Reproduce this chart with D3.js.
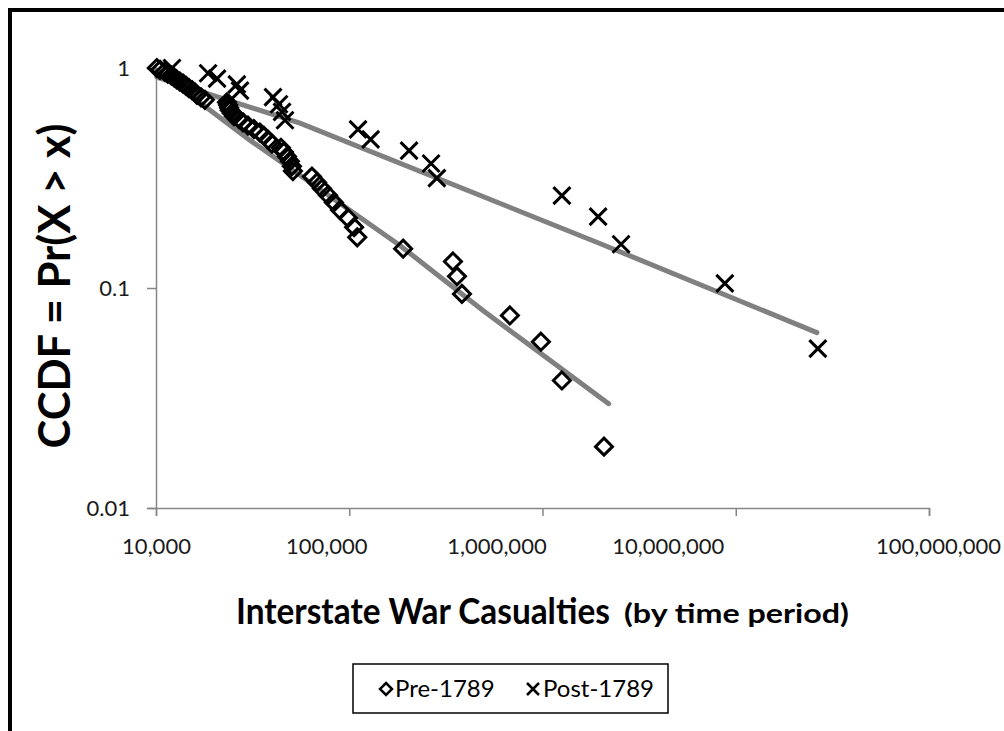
<!DOCTYPE html>
<html lang="en">
<head>
<meta charset="UTF-8">
<title>Interstate war casualties CCDF</title>
<script src="https://d3js.org/d3.v7.min.js"></script>
<style>
  body { margin: 0; background: #fff; }
  svg text { font-family: Lato, "Open Sans", sans-serif; }
  .tick text { font-size: 22px; fill: #1a1a1a; }
  .axis path, .axis line { stroke: #868686; stroke-width: 1.5px; }
</style>
</head>
<body>
<div id="chart"></div>
<script>
// values
// pre-1789 wars: casualties and the ccdf at each point
var preCasualties = [10100, 10500, 11100, 11500, 12000, 12400, 12800, 13300, 13800, 14300,
  14800, 15400, 15900, 16300, 17100, 17900, 23300, 23600, 23900, 24100,
  24700, 25300, 26900, 28200, 29900, 32100, 34500, 36200, 38000, 39800,
  44300, 45900, 47600, 49300, 50500, 51100, 64100, 68100, 72200, 77600,
  83300, 89500, 98500, 106000, 110000, 190000, 344000, 361000, 383000, 678000,
  981000, 1260000, 2080000];
var preCcdf = [1, 0.981, 0.962, 0.943, 0.925, 0.906, 0.887, 0.868, 0.849, 0.830,
  0.811, 0.792, 0.774, 0.755, 0.736, 0.717, 0.698, 0.679, 0.660, 0.642,
  0.623, 0.604, 0.585, 0.566, 0.547, 0.528, 0.509, 0.491, 0.472, 0.453,
  0.434, 0.415, 0.396, 0.377, 0.358, 0.340, 0.321, 0.302, 0.283, 0.264,
  0.245, 0.226, 0.208, 0.189, 0.170, 0.151, 0.132, 0.113, 0.094, 0.075,
  0.057, 0.038, 0.019];

// post-1789 wars
var postCasualties = [12100, 18600, 20700, 26200, 27200, 40300, 43300, 44900, 46500, 111000,
  129000, 204000, 265000, 284000, 1260000, 1940000, 2550000, 8780000, 26600000];
var postCcdf = [1, 0.947, 0.895, 0.842, 0.789, 0.737, 0.684, 0.632, 0.579, 0.526,
  0.474, 0.421, 0.368, 0.316, 0.263, 0.211, 0.158, 0.105, 0.053];

// fitted curves (gray lines)
var preFitX = [10100, 30600, 183000, 492000, 2200000];
var preFitY = [0.979, 0.47, 0.156, 0.079, 0.0298];
var postFitX = [10100, 19500, 55600, 1980000, 26300000];
var postFitY = [0.91, 0.753, 0.562, 0.1594, 0.0627];

var xTicks = [1e4, 1e5, 1e6, 1e7, 1e8];
var yTicks = [0.01, 0.1, 1];

var width = 1004, height = 731;
// excel spaced the x labels a little off their ticks
var xLabelShift = [0, -23, -46, -68, 9];

var svg = d3.select("#chart").append("svg")
    .attr("width", width)
    .attr("height", height);

// outer frame
svg.append("rect")
    .attr("x", 10).attr("y", 10)
    .attr("width", 1200).attr("height", 900)
    .attr("fill", "none")
    .attr("stroke", "#000")
    .attr("stroke-width", 4);

var x = d3.scaleLog().domain([1e4, 1e8]).range([156, 929]);
var y = d3.scaleLog().domain([0.01, 1]).range([508, 68]);

var xAxis = svg.append("g")
    .attr("class", "axis")
    .attr("transform", "translate(0,508)")
    .call(d3.axisBottom(x).tickValues(xTicks).tickFormat(d3.format(",")).tickSize(8).tickPadding(22));
xAxis.selectAll(".tick text").attr("dx", function(d, i) { return xLabelShift[i]; });

svg.append("g")
    .attr("class", "axis")
    .attr("transform", "translate(156,0)")
    .call(d3.axisLeft(y).tickValues(yTicks).tickFormat(function(d) { return String(d); }).tickSize(9).tickPadding(17));

// gray fit lines
var line = d3.line()
    .x(function(d) { return x(d[0]); })
    .y(function(d) { return y(d[1]); });

[[preFitX, preFitY], [postFitX, postFitY]].forEach(function(f) {
  svg.append("path")
    .datum(f[0].map(function(v, i) { return [v, f[1][i]]; }))
    .attr("d", line)
    .attr("fill", "none")
    .attr("stroke", "#808080")
    .attr("stroke-width", 5)
    .attr("stroke-linecap", "round");
});

var diamond = "M0,-8.5L8.5,0L0,8.5L-8.5,0Z";
var cross = "M-8.5,-8.5L8.5,8.5M-8.5,8.5L8.5,-8.5";

svg.append("g").selectAll("path")
    .data(preCasualties)
    .enter().append("path")
    .attr("transform", function(d, i) { return "translate(" + x(d) + "," + y(preCcdf[i]) + ")"; })
    .attr("d", diamond)
    .attr("fill", "none")
    .attr("stroke", "#000")
    .attr("stroke-width", 3);

svg.append("g").selectAll("path")
    .data(postCasualties)
    .enter().append("path")
    .attr("transform", function(d, i) { return "translate(" + x(d) + "," + y(postCcdf[i]) + ")"; })
    .attr("d", cross)
    .attr("fill", "none")
    .attr("stroke", "#000")
    .attr("stroke-width", 3);

// squeeze a title to a given width, like the narrow font of the original
function fitText(sel, w) {
  var n = sel.node().getComputedTextLength();
  return w / n;
}

var yt = svg.append("text")
    .attr("text-anchor", "middle")
    .attr("font-size", 43)
    .attr("font-weight", "bold")
    .text("CCDF = Pr(X > x)");
yt.attr("transform", "translate(70,286) rotate(-90) scale(" + fitText(yt, 325) + ",1)");

var xt1 = svg.append("text")
    .attr("font-size", 37)
    .attr("font-weight", "bold")
    .text("Interstate War Casualties");
xt1.attr("transform", "translate(236,624) scale(" + fitText(xt1, 374) + ",1)");

var xt2 = svg.append("text")
    .attr("font-size", 27)
    .attr("font-weight", "bold")
    .text("(by time period)");
xt2.attr("transform", "translate(624,623) scale(" + fitText(xt2, 225) + ",1)");

// legend
var lg = svg.append("g").attr("transform", "translate(353,664)");
lg.append("rect")
    .attr("width", 315).attr("height", 49)
    .attr("fill", "#fff")
    .attr("stroke", "#000")
    .attr("stroke-width", 1.5);
lg.append("path").attr("d", "M0,-6L6,0L0,6L-6,0Z")
    .attr("transform", "translate(33,25)")
    .attr("fill", "none").attr("stroke", "#000").attr("stroke-width", 2.5);
lg.append("text").attr("x", 42).attr("y", 33).attr("font-size", 24).text("Pre-1789");
lg.append("path").attr("d", "M-6,-6L6,6M-6,6L6,-6")
    .attr("transform", "translate(180,25)")
    .attr("fill", "none").attr("stroke", "#000").attr("stroke-width", 2.5);
lg.append("text").attr("x", 190).attr("y", 33).attr("font-size", 24).text("Post-1789");
</script>
</body>
</html>
